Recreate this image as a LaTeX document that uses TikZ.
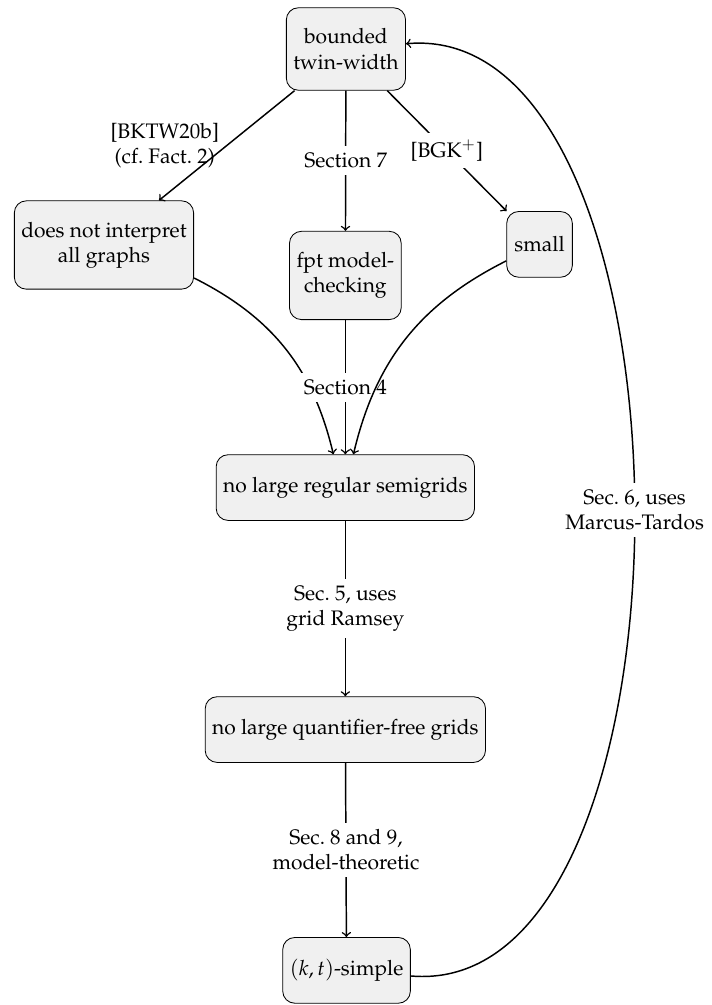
\documentclass[tikz,border=0pt]{standalone}
\usepackage[T1]{fontenc}
\usepackage{mathpazo}
\usepackage{amsmath}
\usepackage{tikz}
\tikzset{statebox/.style={draw, rounded corners=2mm, fill=black!6, align=center,
    inner ysep=10pt, minimum height=1.1cm, minimum width=1.1cm},
  implies/.style={->, line width=0.7pt},
  reason/.style={fill=white, align=center}
}

\begin{document}
\begin{tikzpicture}
      \useasboundingbox (0,0) rectangle (11.90,-16.82);
      \node[statebox] (tww) at (5.79,-0.82) {bounded\\twin-width};
      \node[statebox] (noint) at (1.74,-4.10) {does not interpret\\all graphs};
      \node[statebox] (fptmc) at (5.78,-4.61) {fpt model-\\checking};
      \node[statebox] (small) at (9.03,-4.09) {small};
      \node[statebox] (semigrid) at (5.78,-8.16) {no large regular semigrids};
      \node[statebox] (qfgrid) at (5.78,-12.21) {no large quantifier-free grids};
      \node[statebox] (simple) at (5.80,-16.24) {$(k,t)$-simple};
      \draw[implies] (tww) -- node[left, align=center]{[BKTW20b]\\(cf.\ Fact.~2)} (noint);
      \draw[implies] (tww) -- node[reason]{Section 7} (fptmc);
      \draw[implies] (tww) -- node[reason]{[BGK$^+$]} (small);
      \draw[implies] (noint) to[bend left=25] (semigrid);
      \draw[implies] (fptmc) -- node[reason]{Section 4} (semigrid);
      \draw[implies] (small) to[bend right=25] (semigrid);
      \draw[implies] (semigrid) -- node[reason]{Sec.~5, uses\\grid Ramsey} (qfgrid);
      \draw[implies] (qfgrid) -- node[reason]{Sec.~8 and 9,\\model-theoretic} (simple);
      \draw[implies] (simple) to[out=-5, in=5, looseness=0.83] node[reason]{Sec.~6, uses\\Marcus-Tardos} (tww);
    \end{tikzpicture}
\end{document}
